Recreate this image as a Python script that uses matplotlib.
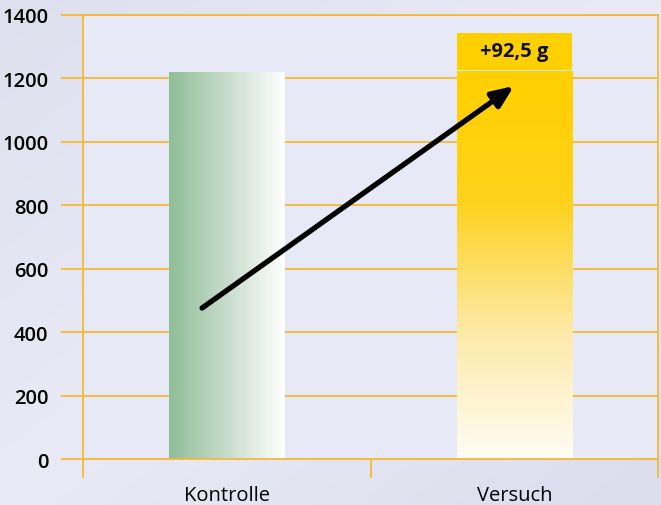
import matplotlib.pyplot as plt
import numpy as np
from matplotlib.colors import LinearSegmentedColormap

# data
categories = ["Kontrolle", "Versuch"]
values = [1220, 1222]
gain_box_top = 1343
gain_label = "+92,5 g"
arrow_start = (0.414, 476)
arrow_end = (1.499, 1176)
yticks = [0, 200, 400, 600, 800, 1000, 1200, 1400]

orange = "#f5b935"
plt.rcParams['font.family'] = ['Open Sans', 'DejaVu Sans']

fig = plt.figure(figsize=(6.61, 5.06), dpi=100)
fig.patch.set_facecolor("#e2e3f0")

# subtle diagonal background gradient
gx = np.linspace(0, 1, 661)[None, :]
gy = np.linspace(0, 1, 506)[:, None]
bgcmap = LinearSegmentedColormap.from_list("bg", ["#dfe0ef", "#e9eaf5", "#dcdded"])
fig.figimage(0.5 * gx + 0.5 * gy, cmap=bgcmap, zorder=-10)

ax = fig.add_axes([0.1256, 0.0909, 0.8699, 0.8775])
ax.set_facecolor("#e8e9f6")

width = 0.4
centers = [0.5, 1.5]

green = LinearSegmentedColormap.from_list("g", ["#8ebe97", "#c8dccb", "#ffffff"])
gold = LinearSegmentedColormap.from_list("y", ["#fffdf5", "#fde9a6", "#ffd21a", "#ffd000"])

# Kontrolle: horizontal gradient
x0 = centers[0] - width / 2
ax.imshow(np.linspace(0, 1, 256).reshape(1, -1), cmap=green, aspect='auto',
          extent=(x0, x0 + width, 0, values[0]), zorder=2)
# Versuch: vertical gradient
x1 = centers[1] - width / 2
ax.imshow(np.linspace(1, 0, 256).reshape(-1, 1), cmap=gold, aspect='auto',
          extent=(x1, x1 + width, 0, values[1]), zorder=2)
# gain box
ax.bar(centers[1], gain_box_top - values[1] - 5, bottom=values[1] + 5, width=width,
       color="#ffd000", zorder=2)
ax.text(centers[1], (gain_box_top + values[1]) / 2 + 3, gain_label, ha='center', va='center',
        fontsize=14.5, fontweight='bold', color="#111111", zorder=3)

ax.annotate("", xy=arrow_end, xytext=arrow_start,
            arrowprops=dict(arrowstyle="-|>,head_length=1.3,head_width=0.55", lw=3.8,
                            color="black", shrinkA=0, shrinkB=0), zorder=4)

ax.set_xlim(0, 2)
ax.set_ylim(0, 1400)
ax.set_yticks(yticks)
ax.set_yticklabels([str(t) for t in yticks], fontsize=14.5, fontweight='semibold')
ax.grid(axis='y', color=orange, lw=1.3, zorder=1)
ax.set_axisbelow(True)

ax.set_xticks([0, 1, 2])
ax.set_xticklabels([])
ax.set_xticks(centers, minor=True)
ax.set_xticklabels(categories, minor=True, fontsize=14.5)
ax.tick_params(axis='x', which='minor', length=0, pad=19)
ax.tick_params(axis='x', which='major', length=14, width=1.3, color=orange)
ax.tick_params(axis='y', length=16, width=1.3, color=orange, pad=9)

for s in ax.spines.values():
    s.set_color(orange)
    s.set_linewidth(1.3)

fig.savefig("out.png", dpi=100, facecolor=fig.get_facecolor())
